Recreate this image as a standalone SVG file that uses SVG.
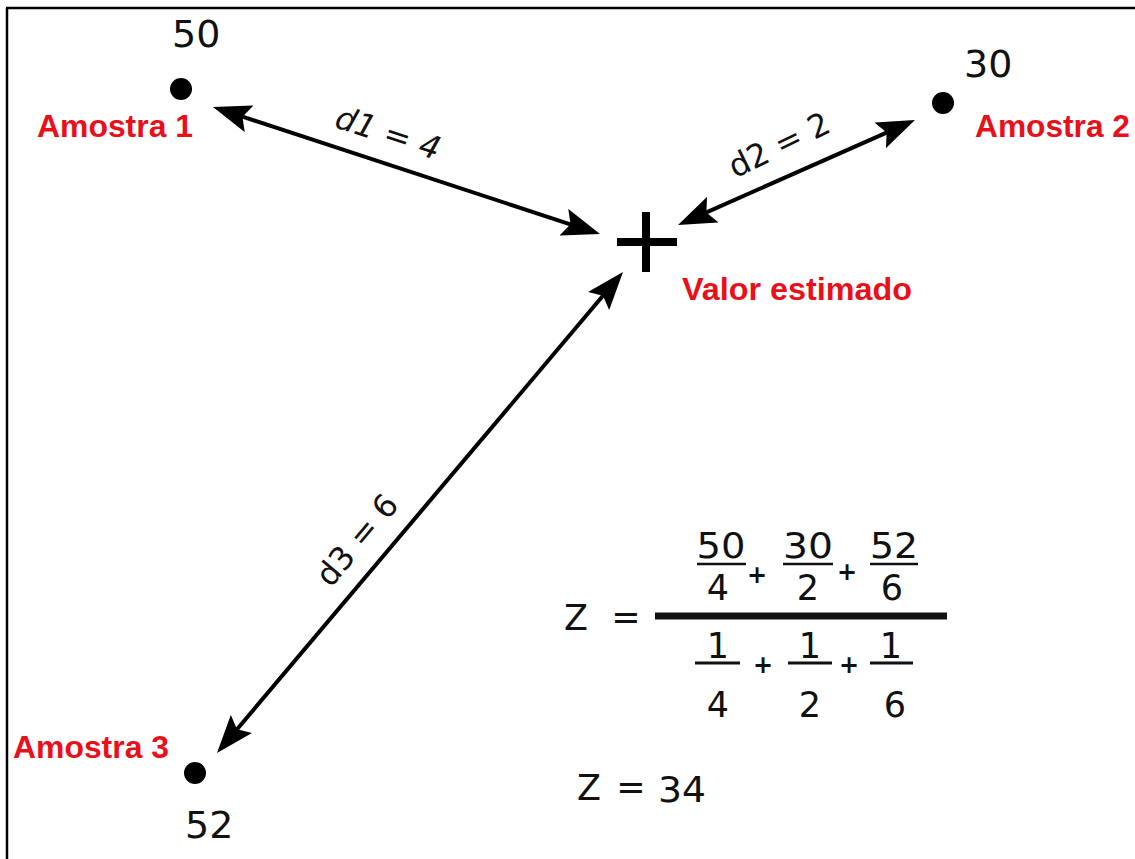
<svg xmlns="http://www.w3.org/2000/svg" width="1135" height="859" viewBox="0 0 1135 859">
<style>
.lbl{font-family:"Liberation Sans",Arial,sans-serif;font-weight:bold;fill:#e8101a;font-size:31px}
.num{font-family:"DejaVu Sans","Liberation Sans",sans-serif;fill:#111;font-size:38px}
.dl{font-family:"DejaVu Sans","Liberation Sans",sans-serif;fill:#111;font-size:32px}
.fx{font-family:"DejaVu Sans","Liberation Sans",sans-serif;fill:#111;font-size:35px;text-anchor:middle}
.pl{font-family:"DejaVu Sans","Liberation Sans",sans-serif;fill:#111;font-size:24px;font-weight:bold;text-anchor:middle}
.conn{stroke:#000;stroke-width:4;fill:none;marker-start:url(#ah);marker-end:url(#ah)}
.bar{stroke:#111;fill:none}
</style>
<defs>
<marker id="ah" markerUnits="userSpaceOnUse" markerWidth="38" markerHeight="28" viewBox="0 0 38 28" refX="18" refY="14" orient="auto-start-reverse">
<path d="M0,0 L38,14 L0,28 L7,14 Z" fill="#000"/>
</marker>
</defs>
<rect width="1135" height="859" fill="#fff"/>
<g id="frame" stroke="#000" stroke-width="2.5">
<line x1="6" y1="8" x2="1135" y2="8"/>
<line x1="7" y1="8" x2="7" y2="859"/>
</g>
<g id="connectors">
<line class="conn" x1="232" y1="113.2" x2="581" y2="227.8"/>
<line class="conn" x1="696.3" y1="216.9" x2="896.7" y2="128.1"/>
<line class="conn" x1="610.1" y1="287.3" x2="229.9" y2="737.7"/>
<text class="dl" font-style="italic" text-anchor="middle" transform="translate(388,133) rotate(18)" y="11">d1 = 4</text>
<text class="dl" text-anchor="middle" transform="translate(779,145) rotate(-26)" y="11">d2 = 2</text>
<text class="dl" text-anchor="middle" transform="translate(357,540) rotate(-50)" y="11">d3 = 6</text>
</g>
<g id="amostra1">
<circle cx="181" cy="89" r="11" fill="#000"/>
<text class="num" x="172" y="47">50</text>
<text class="lbl" x="37" y="137" textLength="156" lengthAdjust="spacingAndGlyphs">Amostra 1</text>
</g>
<g id="amostra2">
<circle cx="943" cy="103" r="11" fill="#000"/>
<text class="num" x="964" y="77">30</text>
<text class="lbl" x="975" y="137" textLength="155" lengthAdjust="spacingAndGlyphs">Amostra 2</text>
</g>
<g id="amostra3">
<circle cx="195" cy="773" r="11" fill="#000"/>
<text class="num" x="185" y="838">52</text>
<text class="lbl" x="13" y="758" textLength="156" lengthAdjust="spacingAndGlyphs">Amostra 3</text>
</g>
<g id="estimado">
<line x1="617" y1="242" x2="677" y2="242" stroke="#000" stroke-width="8"/>
<line x1="646" y1="212" x2="646" y2="272" stroke="#000" stroke-width="8"/>
<text class="lbl" x="682" y="300" textLength="230" lengthAdjust="spacingAndGlyphs">Valor estimado</text>
</g>
<g id="formula">
<text class="fx" x="576" y="630" font-size="41">Z</text>
<text class="fx" x="626" y="629" font-size="30">=</text>
<line class="bar" x1="655" y1="616" x2="947" y2="616" stroke-width="7"/>
<text class="fx" x="721" y="558" textLength="49" lengthAdjust="spacingAndGlyphs">50</text>
<line class="bar" x1="697" y1="564" x2="746" y2="564" stroke-width="2.5"/>
<text class="fx" x="718" y="600">4</text>
<text class="pl" x="757" y="583">+</text>
<text class="fx" x="808" y="558" textLength="50" lengthAdjust="spacingAndGlyphs">30</text>
<line class="bar" x1="783" y1="564" x2="833" y2="564" stroke-width="2.5"/>
<text class="fx" x="808" y="600">2</text>
<text class="pl" x="847" y="580">+</text>
<text class="fx" x="894" y="558" textLength="48" lengthAdjust="spacingAndGlyphs">52</text>
<line class="bar" x1="870" y1="564" x2="918" y2="564" stroke-width="2.5"/>
<text class="fx" x="892" y="600">6</text>
<text class="fx" x="718" y="658" font-size="30">1</text>
<line class="bar" x1="695" y1="663" x2="740" y2="663" stroke-width="3"/>
<text class="fx" x="718" y="717">4</text>
<text class="pl" x="763" y="673">+</text>
<text class="fx" x="810" y="658" font-size="30">1</text>
<line class="bar" x1="788" y1="663" x2="832" y2="663" stroke-width="3"/>
<text class="fx" x="810" y="717">2</text>
<text class="pl" x="849" y="673">+</text>
<text class="fx" x="891" y="658" font-size="30">1</text>
<line class="bar" x1="870" y1="663" x2="913" y2="663" stroke-width="3"/>
<text class="fx" x="895" y="717">6</text>
</g>
<g id="resultado">
<text class="fx" x="589" y="800" font-size="41">Z</text>
<text class="fx" x="631" y="799" font-size="30">=</text>
<text class="fx" x="682" y="802" font-size="40" textLength="48" lengthAdjust="spacingAndGlyphs">34</text>
</g>
</svg>
